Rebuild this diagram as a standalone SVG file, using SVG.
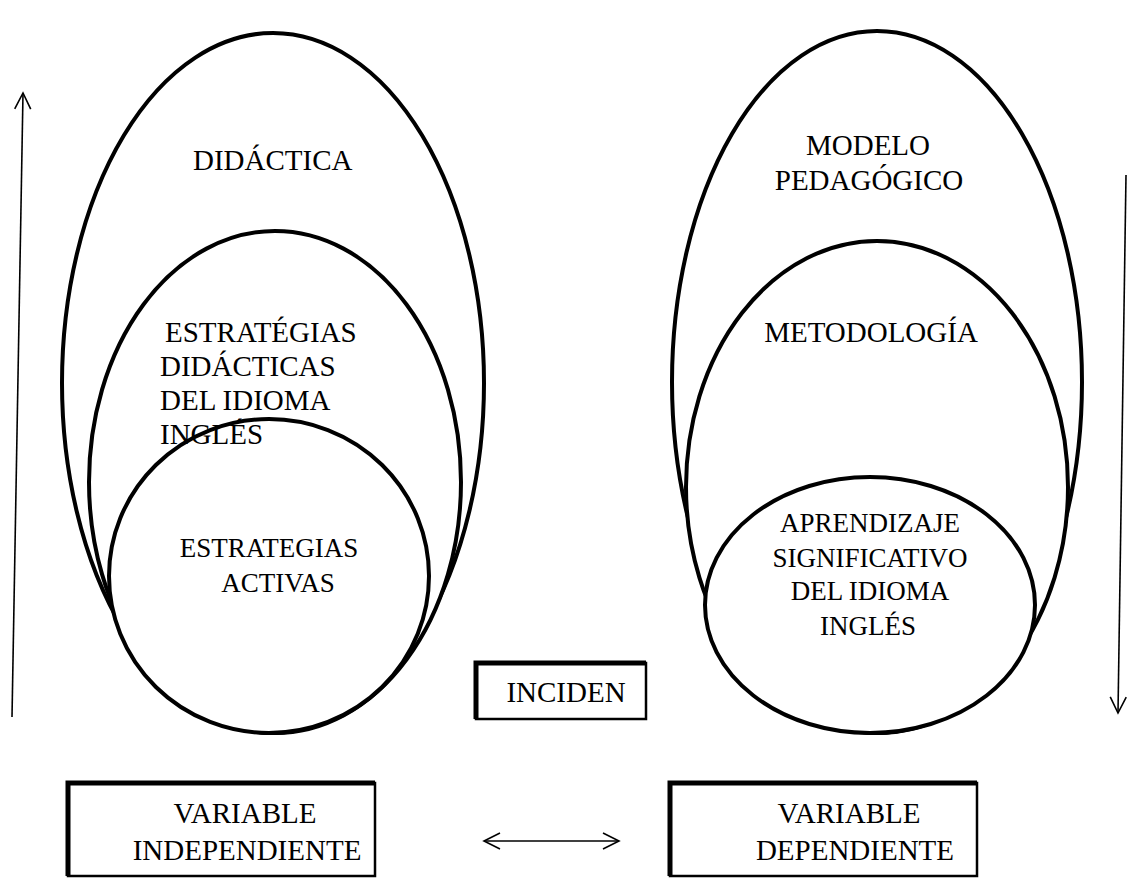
<svg xmlns="http://www.w3.org/2000/svg" width="1127" height="882" viewBox="0 0 1127 882">
<defs>
<marker id="open" viewBox="0 0 20 20" refX="18" refY="10" markerWidth="20" markerHeight="20" markerUnits="userSpaceOnUse" orient="auto-start-reverse">
<path d="M2,2 L18,10 L2,18" fill="none" stroke="#000" stroke-width="1.6"/>
</marker>
</defs>
<style>
.t{font-family:"Liberation Serif","Times New Roman",serif;font-size:29px;fill:#000}
.s{font-size:27px}
.e{fill:#fff;stroke:#000;stroke-width:4}
.b{fill:#fff;stroke:#000;stroke-width:2.5}
.bt{fill:none;stroke:#000;stroke-width:5}
.c{fill:none;stroke:#000;stroke-width:1.6}
</style>
<rect width="1127" height="882" fill="#fff"/>
<g id="left-outer"><ellipse class="e" cx="273" cy="383" rx="211" ry="350"/><text class="t" x="193" y="170">DIDÁCTICA</text></g>
<g id="left-middle"><ellipse class="e" cx="275" cy="482" rx="186" ry="251"/></g>
<g id="left-inner"><ellipse class="e" cx="269" cy="576" rx="160" ry="157"/>
<text class="t s" x="269" y="557" text-anchor="middle">ESTRATEGIAS</text><text class="t s" x="278" y="592" text-anchor="middle">ACTIVAS</text></g>
<g id="left-middle-label"><text class="t" x="165" y="342">ESTRATÉGIAS</text><text class="t" x="160" y="376">DIDÁCTICAS</text><text class="t" x="160" y="410">DEL IDIOMA</text><text class="t" x="160" y="444">INGLÉS</text></g>
<g id="right-outer"><ellipse class="e" cx="877" cy="382" rx="205" ry="351"/>
<text class="t" x="868" y="155" text-anchor="middle">MODELO</text><text class="t" x="869" y="190" text-anchor="middle">PEDAGÓGICO</text></g>
<g id="right-middle"><ellipse class="e" cx="877" cy="487" rx="191" ry="246"/><text class="t" x="871" y="342" text-anchor="middle">METODOLOGÍA</text></g>
<g id="right-inner"><ellipse class="e" cx="870" cy="605" rx="165" ry="128"/>
<text class="t s" x="870" y="532" text-anchor="middle">APRENDIZAJE</text><text class="t s" x="870" y="567" text-anchor="middle">SIGNIFICATIVO</text><text class="t s" x="870" y="600" text-anchor="middle">DEL IDIOMA</text><text class="t s" x="868" y="635" text-anchor="middle">INGLÉS</text></g>
<g id="inciden"><rect class="b" x="476" y="663" width="170" height="56"/><path class="bt" d="M476,719 V663 H646"/><text class="t" x="566" y="702" text-anchor="middle">INCIDEN</text></g>
<g id="var-indep"><rect class="b" x="68" y="783" width="307" height="93"/><path class="bt" d="M68,876 V783 H375"/><text class="t" x="245" y="823" text-anchor="middle">VARIABLE</text><text class="t" x="247" y="860" text-anchor="middle">INDEPENDIENTE</text></g>
<g id="var-dep"><rect class="b" x="670" y="783" width="307" height="93"/><path class="bt" d="M670,876 V783 H977"/><text class="t" x="849" y="823" text-anchor="middle">VARIABLE</text><text class="t" x="855" y="860" text-anchor="middle">DEPENDIENTE</text></g>
<g id="connectors">
<line class="c" x1="12" y1="717" x2="23" y2="93" marker-end="url(#open)"/>
<line class="c" x1="1126" y1="175" x2="1118" y2="713" marker-end="url(#open)"/>
<line class="c" x1="484" y1="841" x2="619" y2="841" marker-start="url(#open)" marker-end="url(#open)"/>
</g>
</svg>
